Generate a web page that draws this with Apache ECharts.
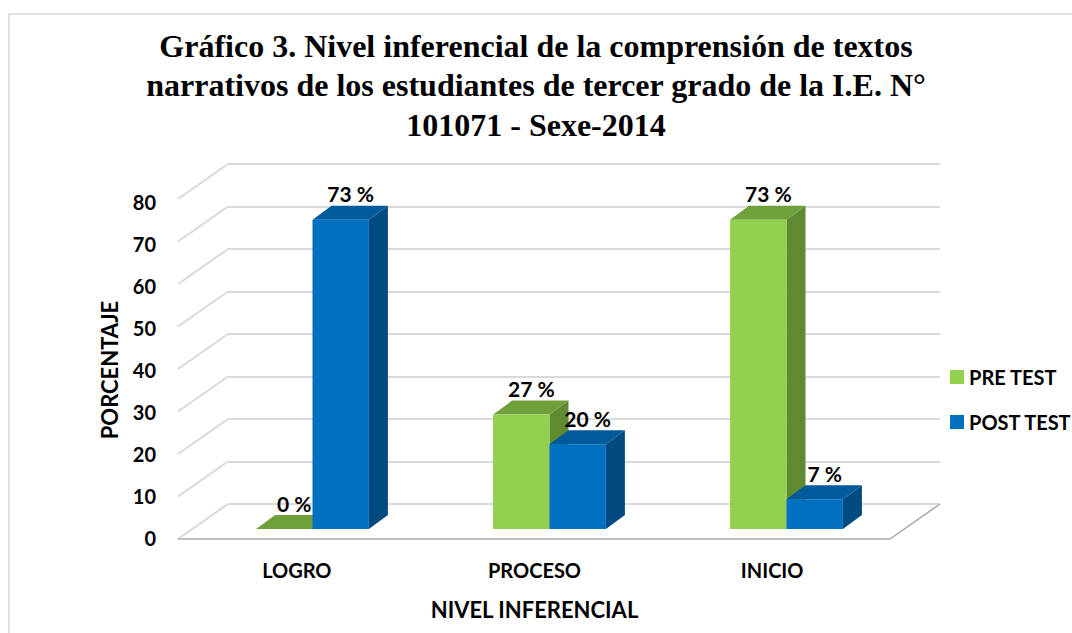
<!DOCTYPE html>
<html>
<head>
<meta charset="utf-8">
<style>
  html, body { margin: 0; padding: 0; background: #fff; }
  #chart { width: 1072px; height: 633px; }
</style>
</head>
<body>
<div id="chart"></div>
<script src="https://cdn.jsdelivr.net/npm/echarts@6/dist/echarts.min.js"></script>
<script>
const categories = ['LOGRO', 'PROCESO', 'INICIO'];
const seriesNames = ['PRE TEST', 'POST TEST'];
const preTest = [0, 27, 73];
const postTest = [73, 20, 7];
const yTicks = [0, 10, 20, 30, 40, 50, 60, 70, 80];

const titleText = 'Gráfico 3. Nivel inferencial de la comprensión de textos\n' +
  'narrativos de los estudiantes de tercer grado de la I.E. N°\n101071 - Sexe-2014';

const font = 'Lato, "Open Sans", sans-serif';
// front, top, side
const greenFaces = ['#92d050', '#70a03c', '#5f8a32'];
const blueFaces = ['#0070c0', '#005a9c', '#004a80'];

const DEPTH_X = 19, DEPTH_Y = 14;   // depth of one bar
const WALL_X = 50, WALL_Y = 35;     // back wall -> front edge of floor

function barRender(faces, side) {
  return function (params, api) {
    const cat = api.value(0);
    const val = api.value(1);
    const top = api.coord([cat, val]);
    const base = api.coord([cat, 0]);
    const bw = api.size([1, 0])[0] * 0.238;
    const x0 = side === 0 ? top[0] - bw : top[0];
    const x1 = x0 + bw;
    const yt = top[1], yb = base[1];
    return {
      type: 'group',
      children: [
        { type: 'polygon', shape: { points: [[x1, yb], [x1 + DEPTH_X, yb - DEPTH_Y], [x1 + DEPTH_X, yt - DEPTH_Y], [x1, yt]] },
          style: { fill: faces[2] } },
        { type: 'polygon', shape: { points: [[x0, yt], [x1, yt], [x1 + DEPTH_X, yt - DEPTH_Y], [x0 + DEPTH_X, yt - DEPTH_Y]] },
          style: { fill: faces[1] } },
        { type: 'rect', shape: { x: x0, y: yt, width: bw, height: yb - yt },
          style: { fill: faces[0] } },
        { type: 'text', x: (x0 + x1) / 2 + 10, y: yt - DEPTH_Y - 12,
          style: { text: val + ' %', fill: '#000', font: 'bold 21px ' + font, align: 'center', verticalAlign: 'middle' } }
      ]
    };
  };
}

function wallRender(params, api) {
  const cs = params.coordSys;
  const p = api.coord([0, api.value(1)]);
  const y = p[1];
  const children = [
    { type: 'line', shape: { x1: cs.x, y1: y, x2: cs.x - WALL_X, y2: y + WALL_Y },
      style: { stroke: '#d9d9d9', lineWidth: 2 } }
  ];
  if (api.value(1) === 0) {
    const xr = cs.x + cs.width;
    children.push({ type: 'line', shape: { x1: cs.x - WALL_X, y1: y + WALL_Y, x2: xr - WALL_X, y2: y + WALL_Y },
      style: { stroke: '#bfbfbf', lineWidth: 2 } });
    children.push({ type: 'line', shape: { x1: xr - WALL_X, y1: y + WALL_Y, x2: xr, y2: y },
      style: { stroke: '#a6a6a6', lineWidth: 1.5 } });
  }
  return { type: 'group', children: children };
}

const chart = echarts.init(document.getElementById('chart'), null, { renderer: 'svg' });

const option = {
  animation: false,
  backgroundColor: '#fff',
  title: {
    text: titleText,
    left: 'center',
    top: 21,
    textStyle: { fontFamily: '"Liberation Serif", "Times New Roman", serif', fontWeight: 'bold', fontSize: 32, lineHeight: 39.5, color: '#000' }
  },
  graphic: [
    { type: 'rect', shape: { x: 9, y: 14, width: 1200, height: 800 }, style: { fill: 'none', stroke: '#d9d9d9', lineWidth: 1.5 }, z: -1 }
  ],
  legend: {
    data: seriesNames,
    orient: 'vertical',
    left: 950,
    top: 367,
    padding: 0,
    itemWidth: 14,
    itemHeight: 14,
    itemGap: 25,
    icon: 'rect',
    textStyle: { fontFamily: font, fontWeight: 'bold', fontSize: 20, color: '#000' }
  },
  grid: [
    { left: 194, right: 167, top: 190, bottom: 104 },   // bar front plane
    { left: 178, right: 181, top: 202, bottom: 95 },    // front of floor, labels
    { left: 228, right: 132, top: 164, bottom: 129 }    // back wall
  ],
  xAxis: [
    { gridIndex: 0, type: 'category', data: categories, show: false },
    { gridIndex: 1, type: 'category', data: categories,
      axisLine: { show: false }, axisTick: { show: false },
      axisLabel: { margin: 22, color: '#000', fontFamily: font, fontWeight: 'bold', fontSize: 20 },
      name: 'NIVEL INFERENCIAL', nameLocation: 'middle', nameGap: 60,
      nameTextStyle: { color: '#000', fontFamily: font, fontWeight: 'bold', fontSize: 22 } },
    { gridIndex: 2, type: 'category', data: categories, show: false }
  ],
  yAxis: [
    { gridIndex: 0, type: 'value', min: 0, max: 80, interval: 10, show: false },
    { gridIndex: 1, type: 'value', min: 0, max: 80, interval: 10,
      splitLine: { show: false }, axisLine: { show: false }, axisTick: { show: false },
      axisLabel: { margin: 22, color: '#000', fontFamily: font, fontWeight: 'bold', fontSize: 20 },
      name: 'PORCENTAJE', nameLocation: 'middle', nameGap: 58,
      nameTextStyle: { color: '#000', fontFamily: font, fontWeight: 'bold', fontSize: 22 } },
    { gridIndex: 2, type: 'value', min: 0, max: 80, interval: 10,
      axisLine: { show: false }, axisTick: { show: false }, axisLabel: { show: false },
      splitLine: { lineStyle: { color: '#d9d9d9', width: 2 } } }
  ],
  series: [
    { type: 'custom', name: 'walls', xAxisIndex: 2, yAxisIndex: 2, silent: true,
      data: yTicks.map(v => [0, v]), encode: { x: 0, y: 1 }, renderItem: wallRender, z: 1 },
    { type: 'custom', name: seriesNames[0], xAxisIndex: 0, yAxisIndex: 0,
      itemStyle: { color: greenFaces[0] },
      data: preTest.map((v, i) => [i, v]), encode: { x: 0, y: 1 }, renderItem: barRender(greenFaces, 0), z: 2 },
    { type: 'custom', name: seriesNames[1], xAxisIndex: 0, yAxisIndex: 0,
      itemStyle: { color: blueFaces[0] },
      data: postTest.map((v, i) => [i, v]), encode: { x: 0, y: 1 }, renderItem: barRender(blueFaces, 1), z: 3 }
  ]
};

chart.setOption(option);
</script>
</body>
</html>
